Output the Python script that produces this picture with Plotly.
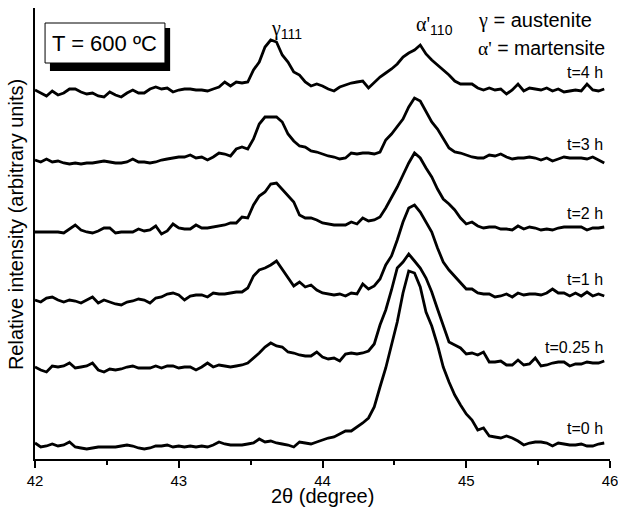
import numpy as np
import plotly.graph_objects as go

# ---------------- data ----------------
# 2-theta sampling grid (degree), step 0.04
two_theta = np.round(np.arange(100) * 0.04 + 42.0, 2)

# stacked relative intensities (arbitrary units)
i_4h = [370,367,364,369,365,367,371,371,368,366, 367,364,363,368,365,363,367,370,367,367,
        371,373,371,372,368,370,371,371,370,370, 369,371,373,378,374,378,377,378,390,398,
        413,420,418,405,398,388,385,378,374,376, 374,371,369,373,375,377,378,379,372,378,
        383,387,391,396,403,407,410,415,406,400, 395,390,385,379,376,376,376,372,370,372,
        370,371,366,370,376,369,372,371,370,372, 369,371,368,369,370,369,376,370,369,371]
i_3h = [300,298,301,298,299,297,296,297,296,297, 297,298,299,298,297,297,298,301,298,298,
        297,298,300,301,302,303,303,305,302,303, 300,303,307,306,304,311,313,311,321,336,
        343,343,343,338,326,319,314,313,309,308, 306,304,303,301,302,307,306,307,307,306,
        308,320,326,333,341,353,362,359,349,338, 331,321,312,308,307,305,303,302,302,305,
        304,306,303,301,302,302,303,302,300,302, 299,301,303,302,302,302,301,303,300,297]
i_2h = [228,228,228,228,228,227,231,235,230,228, 227,229,232,232,227,228,228,228,231,229,
        230,234,226,229,236,232,231,231,235,232, 232,233,234,235,237,237,243,242,255,264,
        268,276,277,271,265,258,245,242,242,240, 237,236,235,235,235,238,236,242,239,240,
        243,252,262,273,285,297,307,302,292,283, 271,261,256,250,242,236,238,234,232,233,
        233,231,231,230,234,231,233,232,230,231, 230,232,233,233,233,233,230,232,232,233]
i_1h = [160,158,162,163,160,158,160,159,157,160, 163,157,160,158,156,155,158,159,161,160,
        157,162,163,166,167,165,160,164,165,165, 163,167,166,166,167,168,168,172,184,190,
        192,195,199,191,183,174,178,173,175,170, 167,166,165,166,164,167,166,176,171,174,
        181,195,204,220,238,252,255,248,238,228, 212,198,190,184,177,171,171,167,166,166,
        163,164,166,163,167,165,166,166,165,167, 171,167,167,164,167,164,168,164,166,164]
i_025h = [93,90,88,94,93,94,97,92,93,94, 97,90,88,91,90,91,93,94,92,92,
          92,94,92,94,94,92,93,93,90,93, 97,93,95,94,93,94,95,97,102,107,
          113,117,114,113,108,107,105,104,104,108, 103,101,102,99,106,107,106,107,109,116,
          135,150,170,192,198,206,199,192,182,168, 151,135,118,115,112,106,107,105,108,98,
          98,99,95,95,100,95,96,102,94,95, 97,98,98,94,96,96,98,97,97,99]
i_0h = [17,13,14,16,14,15,18,13,12,11, 12,13,13,13,13,14,15,14,12,11,
        12,14,14,15,13,14,13,14,13,14, 13,15,18,16,15,15,15,16,17,21,
        18,19,17,16,15,13,18,17,16,18, 20,22,23,26,29,29,33,37,42,53,
        73,92,115,138,167,189,187,173,148,134, 115,93,78,65,55,46,40,30,32,24,
        23,22,24,22,19,15,17,18,18,17, 14,17,16,15,15,16,14,14,16,17]

series = [i_4h, i_3h, i_2h, i_1h, i_025h, i_0h]
time_labels = ["t=4 h", "t=3 h", "t=2 h", "t=1 h", "t=0.25 h", "t=0 h"]
x_ticks = [42, 43, 44, 45, 46]

# ---------------- figure ----------------
FONT = "Liberation Sans, Arial, sans-serif"
GREEK = '<span style="font-family:Liberation Serif, DejaVu Serif, serif">{}</span>'
fig = go.Figure()
for ys in series:
    fig.add_trace(go.Scatter(x=two_theta, y=ys, mode="lines",
                             line=dict(color="black", width=2.8),
                             showlegend=False, hoverinfo="skip"))

label_y = [388, 316, 247, 181, 113, 32]
annotations = []
for txt, yy in zip(time_labels, label_y):
    annotations.append(dict(x=45.965, y=yy, xref="x", yref="y", text=txt,
                            showarrow=False, xanchor="right", yanchor="middle",
                            font=dict(size=16, color="black", family=FONT)))

annotations += [
    dict(x=43.75, y=431, xref="x", yref="y", text=GREEK.format("γ") + "<sub>111</sub>",
         showarrow=False, xanchor="center", yanchor="middle",
         font=dict(size=20, color="black", family=FONT)),
    dict(x=44.78, y=435, xref="x", yref="y", text=GREEK.format("α'") + "<sub>110</sub>",
         showarrow=False, xanchor="center", yanchor="middle",
         font=dict(size=20, color="black", family=FONT)),
    dict(x=45.07, y=440, xref="x", yref="y", text=GREEK.format("γ") + " = austenite",
         showarrow=False, xanchor="left", yanchor="middle",
         font=dict(size=20, color="black", family=FONT)),
    dict(x=45.07, y=412, xref="x", yref="y", text=GREEK.format("α'") + " = martensite",
         showarrow=False, xanchor="left", yanchor="middle",
         font=dict(size=19.5, color="black", family=FONT)),
    dict(x=42.48, y=417, xref="x", yref="y", text="T = 600 ºC", showarrow=False,
         xanchor="center", yanchor="middle", font=dict(size=22, color="black", family=FONT)),
    dict(x=-0.032, y=0.52, xref="paper", yref="paper", text="Relative intensity (arbitrary units)",
         textangle=-90, showarrow=False, xanchor="center", yanchor="middle",
         font=dict(size=20, color="black", family=FONT)),
    dict(x=0.5, y=-0.083, xref="paper", yref="paper", text="2θ (degree)", showarrow=False,
         xanchor="center", yanchor="middle", font=dict(size=20, color="black", family=FONT)),
]

shapes = [
    dict(type="rect", xref="x", yref="y", x0=42.104, x1=42.94, y0=389, y1=432,
         fillcolor="black", line=dict(width=0), layer="above"),
    dict(type="rect", xref="x", yref="y", x0=42.07, x1=42.904, y0=397, y1=437,
         fillcolor="white", line=dict(color="black", width=1), layer="above"),
]

fig.update_layout(
    width=618, height=508,
    margin=dict(l=35, r=8, t=8, b=49, autoexpand=False),
    plot_bgcolor="white", paper_bgcolor="white",
    font=dict(family=FONT, color="black"),
    annotations=annotations, shapes=shapes,
    xaxis=dict(range=[42, 46], tickvals=x_ticks, ticktext=[str(v) for v in x_ticks],
               showline=True, linecolor="black", linewidth=2,
               ticks="outside", ticklen=7, tickwidth=1.5, tickcolor="black",
               minor=dict(dtick=0.5, ticks="outside", ticklen=4, tickwidth=1.5, tickcolor="black"),
               showgrid=False, zeroline=False, ticklabeloverflow="allow", automargin=False,
               tickfont=dict(size=15, color="black")),
    yaxis=dict(range=[1, 452], showline=True, linecolor="black", linewidth=2,
               showticklabels=False, ticks="", showgrid=False, zeroline=False, automargin=False),
)

fig.write_html("out.html", config={"displayModeBar": False},
               post_script="document.body.style.margin='0';document.body.style.overflow='hidden';")
